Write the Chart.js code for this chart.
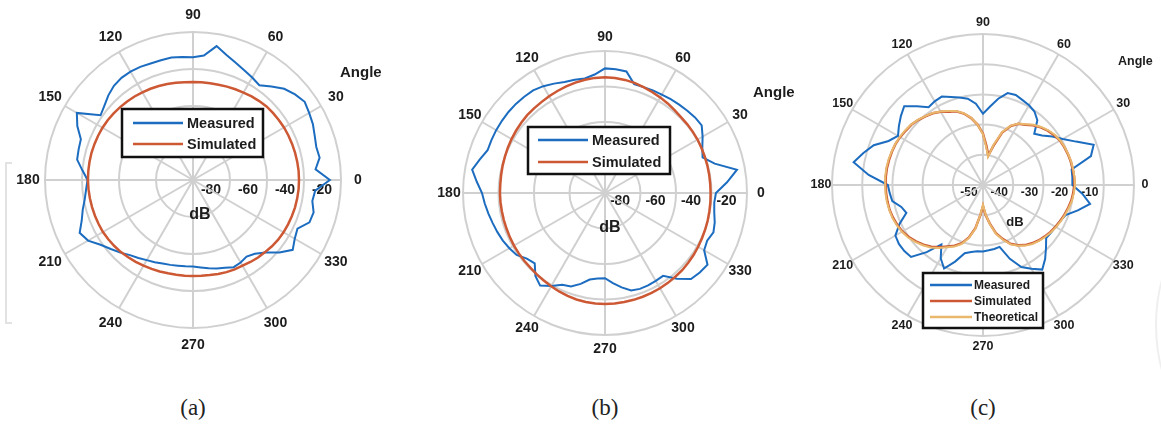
<!DOCTYPE html>
<html>
<head>
<meta charset="utf-8">
<script src="https://cdn.jsdelivr.net/npm/chart.js"></script>
<style>
html,body{margin:0;padding:0;background:#fff;width:1161px;height:430px;overflow:hidden;position:relative;}
canvas{position:absolute;top:0;}
.cap{position:absolute;top:395px;font-family:"Liberation Serif","Times New Roman",serif;font-size:23px;color:#222;transform:translateX(-50%);}
.brk{position:absolute;left:5px;top:162px;width:5px;height:158px;border:2px solid #e2e2e2;border-right:none;}
.arc{position:absolute;left:1155px;top:205px;width:160px;height:240px;border-left:2px solid #efefef;border-radius:50%;}
</style>
</head>
<body>
<div class="brk"></div>
<div class="arc"></div>
<canvas id="ca" width="390" height="380" style="left:0px"></canvas>
<canvas id="cc" width="371" height="380" style="left:790px"></canvas>
<canvas id="cb" width="410" height="380" style="left:395px"></canvas>
<div class="cap" style="left:193px">(a)</div>
<div class="cap" style="left:605px">(b)</div>
<div class="cap" style="left:983px">(c)</div>
<script>
// ---------- data (angle in degrees, counter-clockwise from 0 at the right; values in dB) ----------
const ANGLES = [0,5,10,15,20,25,30,35,40,45,50,55,60,65,70,75,80,85,90,95,100,105,110,115,
  120,125,130,135,140,145,150,155,160,165,170,175,180,185,190,195,200,205,210,215,220,225,230,235,
  240,245,250,255,260,265,270,275,280,285,290,295,300,305,310,315,320,325,330,335,340,345,350,355];
const THETA_TICKS = [0,30,60,90,120,150,180,210,240,270,300,330];
const A_R_TICKS = [-80,-60,-40,-20];
const B_R_TICKS = [-80,-60,-40,-20];
const C_R_TICKS = [-50,-40,-30,-20,-10];

const A_MEASURED = [-6,-13.5,-10.5,-11,-10,-8.5,-7.5,-6.3,-8,-10.3,-14,-17.5,-16,-14.5,-12.5,-10,-6.5,-12.5,
  -13.7,-13.2,-12.8,-13,-13,-12.5,-12.4,-12.6,-13.5,-15.3,-17.5,-19,-7.5,-11,-15.5,-16,-16.4,-20,
  -23,-22,-20.6,-18.3,-16,-12.4,-14.5,-19,-22,-24.5,-27,-28.5,-30,-31,-32,-32.5,-33,-33.2,
  -33.2,-32.5,-31.5,-30.5,-29.5,-28,-28.5,-29.5,-28,-24.5,-19,-14.2,-16.5,-17.7,-13,-12.5,-14.5,-13.7];
const A_SIMULATED = [-22.7,-22.7,-22.8,-22.9,-23.0,-23.1,-23.2,-23.4,-23.6,-23.8,-24.3,-24.8,-25.4,-25.9,-26.3,-26.7,-26.9,-27.0,
  -27.0,-26.9,-26.6,-26.3,-25.9,-25.6,-25.3,-24.9,-24.6,-24.3,-24.0,-23.7,-23.5,-23.4,-23.3,-23.2,-23.2,-23.2,
  -23.2,-23.3,-23.4,-23.5,-23.6,-23.7,-23.8,-24.1,-24.5,-24.9,-25.5,-26.0,-26.5,-27.0,-27.4,-27.8,-28.0,-28.1,
  -28.1,-28.0,-27.8,-27.4,-27.0,-26.7,-26.5,-25.9,-25.3,-24.9,-24.3,-23.8,-23.5,-23.3,-23.1,-22.9,-22.8,-22.7];

const B_MEASURED = [-17.5,-11,-4.5,-16,-21.5,-19.5,-16.5,-13.5,-13.8,-14.4,-15,-15.5,-16,-16.2,-16.5,-16.5,-10.5,-10,
  -9.8,-13,-14.5,-14,-13.5,-12,-10.5,-9.4,-9.2,-9,-9,-9.1,-9.2,-9.4,-9.6,-7,-4,-7.5,
  -10.7,-12,-13.3,-14.5,-15.5,-16.5,-17.8,-19.2,-22.5,-24,-19,-16.3,-19.5,-23,-24,-27,-30.5,-31.7,
  -32,-29,-26,-23.2,-22.5,-22.6,-22.8,-23,-17,-11.5,-10.3,-9.5,-15.5,-16.5,-15,-16,-17.5,-18.2];
const B_SIMULATED = [-20.5,-20.5,-20.4,-20.3,-20.2,-20.0,-19.8,-19.7,-19.6,-19.5,-19.0,-18.4,-17.8,-17.2,-16.5,-15.8,-15.3,-15.0,
  -14.8,-14.9,-15.2,-15.6,-16.1,-16.6,-17.0,-17.5,-17.8,-18.0,-18.4,-18.8,-19.2,-19.6,-20.0,-20.3,-20.6,-20.8,
  -20.8,-20.9,-21.0,-21.0,-21.0,-20.9,-20.8,-20.7,-20.6,-20.5,-20.2,-19.8,-19.3,-18.8,-18.3,-17.9,-17.6,-17.5,
  -17.5,-17.5,-17.6,-17.7,-17.8,-17.9,-18.0,-18.2,-18.4,-18.5,-18.8,-19.1,-19.4,-19.7,-19.9,-20.1,-20.3,-20.4];

const C_MEASURED = [-20.4,-20.3,-20.2,-13,-11,-16,-19.5,-22,-24.5,-26,-22,-20.3,-19.5,-19,-18.3,-18.5,-21,-24,
  -26.4,-23,-21,-20,-19,-17.7,-18,-18.6,-16,-13.1,-14.5,-16,-17.5,-15.5,-11.5,-9,-6.5,-12,
  -18.5,-19,-19.5,-22,-23,-19.5,-16.5,-16,-16,-16.3,-21,-26,-22,-19.5,-23,-26.6,-27.5,-28,
  -28,-28.3,-28.5,-28.8,-24,-20,-18,-15.8,-18,-20.5,-22.7,-22.5,-22.2,-21.8,-20.9,-17.5,-14,-17];
const C_SIMULATED = [-19.7,-19.7,-19.8,-19.9,-20.1,-20.3,-20.6,-21.2,-22,-23,-24.2,-25.6,-26.6,-28.5,-31.5,-36.5,-40,-37,
  -33,-30,-27.5,-25.5,-24,-23.2,-22,-21,-20.3,-19.6,-19,-18.7,-18.3,-18,-17.9,-17.8,-17.7,-17.7,
  -17.8,-17.8,-17.9,-18,-18.3,-18.7,-19.2,-20,-21,-22.1,-23.3,-24.8,-26.5,-27.8,-29.5,-32,-35.5,-40,
  -43,-40,-37,-33.5,-31,-28.5,-27,-25.7,-24.8,-24,-23.4,-22.8,-22.3,-21.8,-21.3,-20.8,-20.3,-20];
const C_THEORETICAL = [-19.5,-19.6,-19.7,-19.8,-20.0,-20.2,-20.5,-21.0,-21.8,-22.8,-24.0,-25.4,-26.5,-28.3,-31.3,-36.0,-40.5,-37.5,
  -33.2,-30.0,-27.4,-25.4,-23.9,-23.0,-21.9,-20.9,-20.2,-19.5,-18.9,-18.5,-18.2,-17.9,-17.8,-17.6,-17.5,-17.5,
  -17.6,-17.6,-17.7,-17.9,-18.1,-18.5,-19.0,-19.7,-20.7,-21.8,-23.0,-24.5,-26.2,-27.5,-29.2,-31.8,-35.3,-40.2,
  -43.5,-40.2,-36.8,-33.2,-30.7,-28.3,-26.8,-25.5,-24.5,-23.8,-23.2,-22.6,-22.1,-21.6,-21.1,-20.6,-20.1,-19.8];

// ---------- styles ----------
const BLUE = 'rgb(28,108,192)';
const RED = 'rgb(204,88,52)';
const YELLOW = 'rgb(234,184,108)';
const GRID = 'rgb(208,208,208)';
const INK = 'rgb(28,28,28)';
const FONT = '"Liberation Sans", Arial, Helvetica, sans-serif';

// chart labels go clockwise on screen; start at the right (startAngle 90)
const N = ANGLES.length;
const CHART_LABELS = ANGLES.map((a, i) => ANGLES[(N - i) % N]);
const reorder = (series) => series.map((v, i) => series[(N - i) % N]);

const polarDecor = {
  id: 'polarDecor',
  beforeDraw(chart, args, o) {
    const s = chart.scales.r, ctx = chart.ctx;
    ctx.save();
    ctx.fillStyle = INK;
    ctx.font = `bold ${o.rFont}px ${FONT}`;
    ctx.textAlign = 'center';
    ctx.textBaseline = 'middle';
    o.rTicks.forEach(v => {
      const d = s.getDistanceFromCenterForValue(v);
      ctx.fillText(String(v), s.xCenter + d + o.rDx, s.yCenter + o.rDy);
    });
    ctx.restore();
  },
  afterDraw(chart, args, o) {
    const s = chart.scales.r, ctx = chart.ctx;
    ctx.save();
    ctx.fillStyle = INK;
    ctx.textBaseline = 'middle';
    // angle labels
    ctx.font = `bold ${o.thetaFont}px ${FONT}`;
    ctx.textAlign = 'center';
    THETA_TICKS.forEach(t => {
      const idx = CHART_LABELS.indexOf(t);
      const p = s.getPointPosition(idx, s.drawingArea + o.thetaPad);
      ctx.fillText(String(t), p.x, p.y);
    });
    // axis titles
    ctx.font = `bold ${o.dbFont}px ${FONT}`;
    ctx.fillText('dB', s.xCenter + o.dbPos[0], s.yCenter + o.dbPos[1]);
    ctx.font = `bold ${o.angleFont}px ${FONT}`;
    ctx.textAlign = 'left';
    ctx.fillText('Angle', s.xCenter + o.anglePos[0], s.yCenter + o.anglePos[1]);
    // legend box
    const L = o.legend;
    ctx.fillStyle = '#fff';
    ctx.fillRect(L.x, L.y, L.w, L.h);
    ctx.strokeStyle = '#111';
    ctx.lineWidth = 2.5;
    ctx.strokeRect(L.x, L.y, L.w, L.h);
    ctx.font = `bold ${L.font}px ${FONT}`;
    chart.data.datasets.forEach((ds, k) => {
      const y = L.rows[k];
      ctx.strokeStyle = ds.borderColor;
      ctx.lineWidth = 2.5;
      ctx.beginPath();
      ctx.moveTo(L.x0, y);
      ctx.lineTo(L.x1, y);
      ctx.stroke();
      ctx.fillStyle = INK;
      ctx.fillText(ds.label, L.tx, y + 0.5);
    });
    ctx.restore();
  }
};

function makePolar(id, cfg) {
  return new Chart(document.getElementById(id), {
    type: 'radar',
    data: {
      labels: CHART_LABELS,
      datasets: cfg.series.map(s => ({
        label: s.label,
        data: reorder(s.data),
        borderColor: s.color,
        backgroundColor: 'transparent',
        borderWidth: s.width,
        pointRadius: 0,
        pointHoverRadius: 0,
        fill: false,
        tension: 0,
        order: s.order
      }))
    },
    options: {
      responsive: false,
      animation: false,
      events: [],
      layout: { padding: cfg.pad },
      plugins: {
        legend: { display: false },
        tooltip: { enabled: false },
        polarDecor: cfg.decor
      },
      scales: {
        r: {
          min: cfg.min,
          max: cfg.max,
          startAngle: 90,
          ticks: { display: false, stepSize: cfg.step },
          pointLabels: { display: false },
          grid: { circular: true, color: GRID, lineWidth: 2 },
          angleLines: {
            display: true,
            lineWidth: 2,
            color: (c) => (CHART_LABELS[c.index] % 30 === 0 ? GRID : 'rgba(0,0,0,0)')
          }
        }
      }
    },
    plugins: [polarDecor]
  });
}

makePolar('ca', {
  min: -80, max: 0, step: 20,
  pad: { left: 45, right: 49, top: 32, bottom: 52 },
  series: [
    { label: 'Measured', data: A_MEASURED, color: BLUE, width: 2, order: 2 },
    { label: 'Simulated', data: A_SIMULATED, color: RED, width: 2.5, order: 1 }
  ],
  decor: {
    rTicks: A_R_TICKS, rFont: 14, rDx: 18, rDy: 10,
    thetaFont: 14, thetaPad: 17,
    dbFont: 16, dbPos: [7, 35],
    angleFont: 15, anglePos: [147, -107],
    legend: { x: 122, y: 109, w: 141, h: 48, x0: 133, x1: 183, tx: 187, rows: [123, 144], font: 14.5 }
  }
});

makePolar('cb', {
  min: -80, max: 0, step: 20,
  pad: { left: 68, right: 58, top: 51, bottom: 45 },
  series: [
    { label: 'Measured', data: B_MEASURED, color: BLUE, width: 2, order: 2 },
    { label: 'Simulated', data: B_SIMULATED, color: RED, width: 2.5, order: 1 }
  ],
  decor: {
    rTicks: B_R_TICKS, rFont: 14, rDx: 15, rDy: 8,
    thetaFont: 14, thetaPad: 14,
    dbFont: 16, dbPos: [5, 35],
    angleFont: 15, anglePos: [148, -100],
    legend: { x: 133, y: 127, w: 142, h: 47, x0: 143, x1: 193, tx: 197, rows: [140, 162], font: 14.5 }
  }
});

makePolar('cc', {
  min: -50, max: 0, step: 10,
  pad: { left: 42, right: 27, top: 34, bottom: 44 },
  series: [
    { label: 'Measured', data: C_MEASURED, color: BLUE, width: 2, order: 3 },
    { label: 'Simulated', data: C_SIMULATED, color: RED, width: 2.5, order: 2 },
    { label: 'Theoretical', data: C_THEORETICAL, color: YELLOW, width: 2, order: 1 }
  ],
  decor: {
    rTicks: C_R_TICKS, rFont: 12, rDx: -14, rDy: 8,
    thetaFont: 12.5, thetaPad: 11,
    dbFont: 13, dbPos: [32, 37],
    angleFont: 12.5, anglePos: [135, -123],
    legend: { x: 133, y: 273, w: 120, h: 55, x0: 140, x1: 182, tx: 184, rows: [285, 301, 317], font: 12 }
  }
});
</script>
</body>
</html>
